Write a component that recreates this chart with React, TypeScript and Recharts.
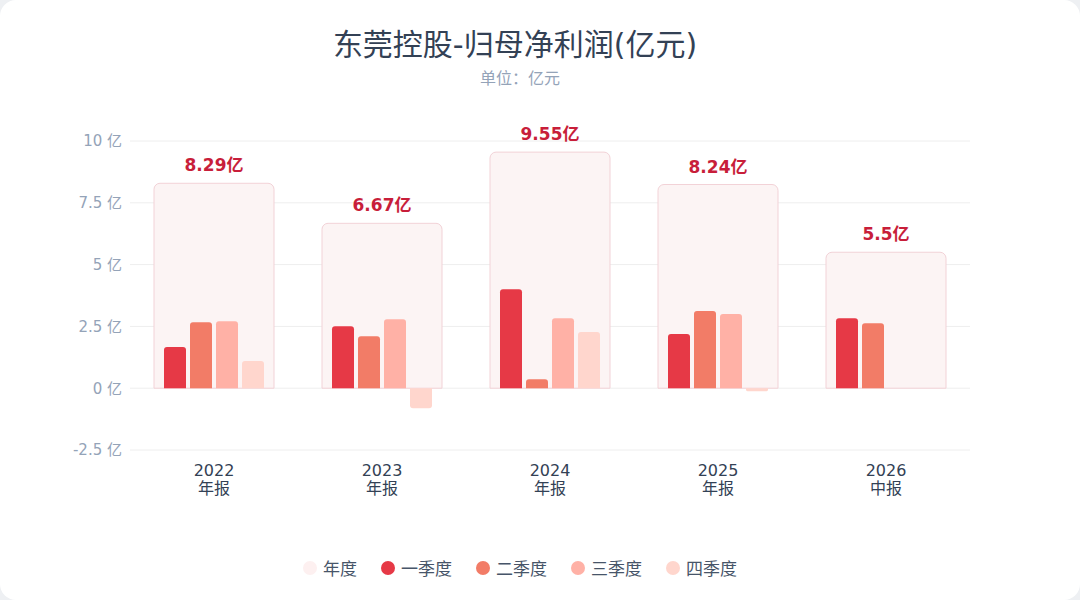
import React from 'react';
import { BarChart, Bar, XAxis, YAxis, CartesianGrid, LabelList } from 'recharts';

const years = ['2022', '2023', '2024', '2025', '2026'];
const periods = ['年报', '年报', '年报', '年报', '中报'];
const annual = [8.29, 6.67, 9.55, 8.24, 5.5];
const q1 = [1.67, 2.51, 4.0, 2.19, 2.83];
const q2 = [2.67, 2.1, 0.36, 3.12, 2.63];
const q3 = [2.71, 2.79, 2.83, 3.0, null];
const q4 = [1.1, -0.81, 2.27, -0.12, null];
const yTicks = [-2.5, 0, 2.5, 5, 7.5, 10];

const data = years.map((y, i) => ({
  name: y,
  period: periods[i],
  annual: annual[i],
  q1: q1[i],
  q2: q2[i],
  q3: q3[i],
  q4: q4[i],
}));

const colors = { annual: '#fcf4f4', q1: '#e63946', q2: '#f27c67', q3: '#ffb1a6', q4: '#ffd6cd' };
const legendItems = [
  { label: '年度', color: '#fdf0f0' },
  { label: '一季度', color: colors.q1 },
  { label: '二季度', color: colors.q2 },
  { label: '三季度', color: colors.q3 },
  { label: '四季度', color: colors.q4 },
];

const font = '"DejaVu Sans", "Noto Sans CJK SC", sans-serif';

function YearTick(props: any) {
  const { x, y, payload, index } = props;
  return (
    <g transform={`translate(${x},${y})`}>
      <text x={0} y={18} textAnchor="middle" fill="#334155" fontSize={16} fontFamily={font}>
        {payload.value}
      </text>
      <text x={0} y={36} textAnchor="middle" fill="#334155" fontSize={16} fontFamily={font}>
        {periods[index]}
      </text>
    </g>
  );
}

export default function App() {
  return (
    <div style={{ position: 'fixed', left: 0, top: 0, width: 1080, height: 600, background: '#eef0f3', fontFamily: font }}>
      <div style={{ position: 'absolute', left: 0, top: 0, width: 1080, height: 600, background: '#fff', borderRadius: 16 }}>
        <div style={{ position: 'absolute', top: 20, left: 0, width: 1030, textAlign: 'center', fontSize: 30, color: '#334155' }}>
          东莞控股-归母净利润(亿元)
        </div>
        <div style={{ position: 'absolute', top: 65, left: 0, width: 1040, textAlign: 'center', fontSize: 16, color: '#94a3b8' }}>
          单位：亿元
        </div>
        <div style={{ position: 'absolute', left: 0, top: 0 }}>
          <BarChart width={1080} height={600} data={data} margin={{ top: 141, right: 110, bottom: 90, left: 70 }} barGap={4}>
            <CartesianGrid vertical={false} stroke="#eeeeee" />
            <XAxis xAxisId="a" dataKey="name" axisLine={false} tickLine={false} tick={<YearTick />} height={60} interval={0} />
            <XAxis xAxisId="q" dataKey="name" hide />
            <YAxis
              domain={[-2.5, 10]}
              ticks={yTicks}
              width={60}
              axisLine={false}
              tickLine={false}
              tickFormatter={(v: number) => `${v} 亿`}
              tick={{ fill: '#94a3b8', fontSize: 15, fontFamily: font }}
            />
            <Bar xAxisId="a" dataKey="annual" barSize={120} fill={colors.annual} stroke="#f2d2d7" strokeWidth={1} radius={[6, 6, 0, 0]} isAnimationActive={false}>
              <LabelList dataKey="annual" position="top" offset={12} formatter={(v: any) => `${v}亿`} fill="#c81e3a" fontSize={17} fontWeight={700} fontFamily={font} />
            </Bar>
            <Bar xAxisId="q" dataKey="q1" barSize={22} fill={colors.q1} radius={[3, 3, 0, 0]} isAnimationActive={false} />
            <Bar xAxisId="q" dataKey="q2" barSize={22} fill={colors.q2} radius={[3, 3, 0, 0]} isAnimationActive={false} />
            <Bar xAxisId="q" dataKey="q3" barSize={22} fill={colors.q3} radius={[3, 3, 0, 0]} isAnimationActive={false} />
            <Bar xAxisId="q" dataKey="q4" barSize={22} fill={colors.q4} radius={[3, 3, 0, 0]} isAnimationActive={false} />
          </BarChart>
        </div>
        <div style={{ position: 'absolute', top: 555, left: 0, width: 1040, display: 'flex', justifyContent: 'center', gap: 24, fontSize: 17, color: '#475569' }}>
          {legendItems.map((it) => (
            <div key={it.label} style={{ display: 'flex', alignItems: 'center' }}>
              <span style={{ width: 14, height: 14, borderRadius: 7, background: it.color, marginRight: 6, display: 'inline-block' }} />
              {it.label}
            </div>
          ))}
        </div>
      </div>
    </div>
  );
}
